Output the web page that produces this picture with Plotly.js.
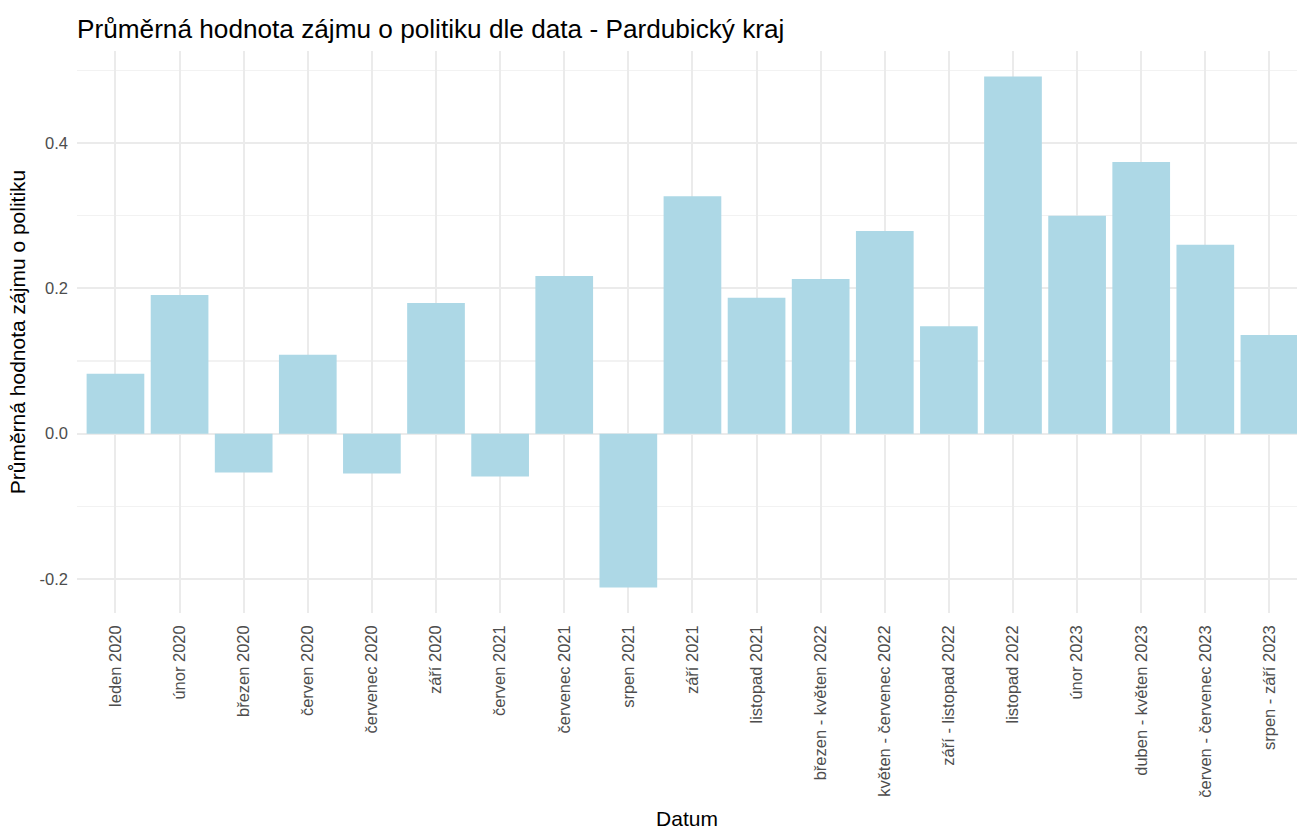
<!DOCTYPE html>
<html>
<head>
<meta charset="utf-8">
<script src="https://cdn.plot.ly/plotly-3.0.1.min.js"></script>
<style>html,body{margin:0;padding:0;overflow:hidden;background:#fff}</style>
</head>
<body>
<div id="chart" style="width:1297px;height:830px"></div>
<script>
const categories = ["leden 2020","únor 2020","březen 2020","červen 2020","červenec 2020","září 2020","červen 2021","červenec 2021","srpen 2021","září 2021","listopad 2021","březen - květen 2022","květen - červenec 2022","září - listopad 2022","listopad 2022","únor 2023","duben - květen 2023","červen - červenec 2023","srpen - září 2023"];
const values = [0.0825,0.191,-0.0536,0.1086,-0.055,0.180,-0.059,0.217,-0.212,0.327,0.187,0.213,0.279,0.148,0.492,0.300,0.374,0.260,0.136];
const yTicks = [-0.2,0.0,0.2,0.4];
const yTickLabels = ["-0.2","0.0","0.2","0.4"];

const font = "Liberation Sans, Arial, Helvetica, sans-serif";
const trace = {
  type: 'bar',
  x: categories.map((c,i)=>i),
  y: values,
  width: 0.9,
  marker: {color: '#ADD8E6', line: {width: 0}},
  hoverinfo: 'x+y'
};
const layout = {
  width: 1297, height: 830,
  margin: {l: 77, r: 0, t: 51, b: 217},
  paper_bgcolor: '#fff', plot_bgcolor: '#fff',
  font: {family: font, color: '#4d4d4d', size: 16},
  title: {text: 'Průměrná hodnota zájmu o politiku dle data - Pardubický kraj',
    font: {family: font, size: 26.2, color: '#000'},
    xref: 'paper', x: 0, xanchor: 'left', yref: 'container', y: 1 - 29/830, yanchor: 'middle'},
  xaxis: {
    range: [-0.6, 18.43],
    tickmode: 'array', tickvals: categories.map((c,i)=>i), ticktext: categories,
    tickangle: -90, ticks: '', ticklabelstandoff: 8,
    showgrid: true, gridcolor: '#EBEBEB', gridwidth: 2,
    zeroline: false, showline: false, fixedrange: true,
    tickfont: {family: font, size: 16.5, color: '#4d4d4d'},
    title: {text: 'Datum', font: {family: font, size: 21, color: '#000'}, standoff: 15}
  },
  yaxis: {
    range: [-0.247, 0.527],
    tickmode: 'array', tickvals: yTicks, ticktext: yTickLabels,
    ticks: '', ticklabelstandoff: 8,
    showgrid: true, gridcolor: '#EBEBEB', gridwidth: 2,
    minor: {tickmode: 'array', tickvals: [-0.1, 0.1, 0.3, 0.5], showgrid: true, gridcolor: '#F2F2F2', gridwidth: 1.2},
    zeroline: false, showline: false, fixedrange: true,
    tickfont: {family: font, size: 16.5, color: '#4d4d4d'},
    title: {text: 'Průměrná hodnota zájmu o politiku', font: {family: font, size: 21, color: '#000'}, standoff: 8}
  },
  bargap: 0.1,
  showlegend: false
};
Plotly.newPlot('chart', [trace], layout, {displayModeBar: false, staticPlot: true});
</script>
</body>
</html>
